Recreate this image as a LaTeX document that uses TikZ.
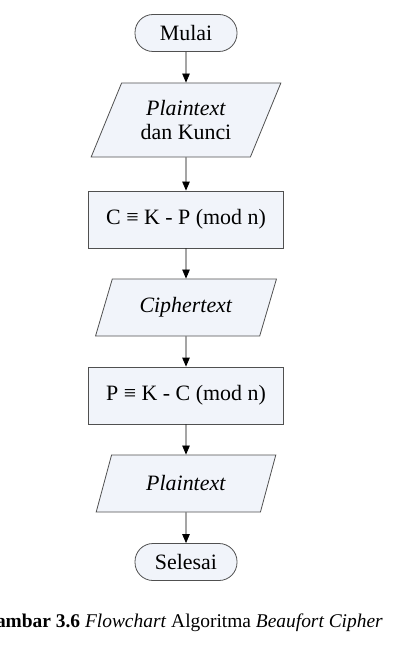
\documentclass[tikz,border=0pt]{standalone}
\usepackage{fontspec}
\setmainfont{Liberation Serif}
\usetikzlibrary{shapes.geometric,arrows.meta}
\definecolor{boxfill}{RGB}{241,244,250}
\definecolor{boxline}{RGB}{80,80,80}
\tikzset{
  base/.style={draw=boxline, line width=0.8bp, fill=boxfill, inner sep=0pt,
    font=\fontsize{22}{25}\selectfont, align=center},
  term/.style={base, rectangle, rounded corners=18bp, minimum width=102bp, minimum height=37bp},
  proc/.style={base, rectangle, minimum width=195bp, minimum height=57bp},
  io/.style={base, trapezium, trapezium left angle=62, trapezium right angle=118,
    trapezium stretches=true, minimum height=57bp, minimum width=181bp},
  flow/.style={draw=black, line width=0.8bp, -{Triangle[length=9bp,width=7.5bp]}},
}
\begin{document}
\begin{tikzpicture}[x=1bp,y=-1bp]
\path[use as bounding box] (0,0) rectangle (400,645);
\clip (0,0) rectangle (400,645);
\node[term] (mulai) at (186,33) {Mulai};
\node[io, minimum height=74bp, minimum width=190bp] (in) at (186,120) {\textit{Plaintext}\\dan Kunci};
\node[proc] (enc) at (186,219.5) {C ≡ K - P (mod n)};
\node[io] (cip) at (186,307.5) {\textit{Ciphertext}};
\node[proc] (dec) at (186,395.5) {P ≡ K - C (mod n)};
\node[io] (pla) at (186,483.5) {\textit{Plaintext}};
\node[term] (sel) at (186,562) {Selesai};
\draw[flow] (mulai) -- (in);
\draw[flow] (in) -- (enc);
\draw[flow] (enc) -- (cip);
\draw[flow] (cip) -- (dec);
\draw[flow] (dec) -- (pla);
\draw[flow] (pla) -- (sel);
\node[anchor=base east, inner sep=0pt, font=\fontsize{19.5}{22}\selectfont] (cap) at (383,627)
  {\textbf{Gambar 3.6} \textit{Flowchart} Algoritma \textit{Beaufort Cipher}};
\end{tikzpicture}
\end{document}
